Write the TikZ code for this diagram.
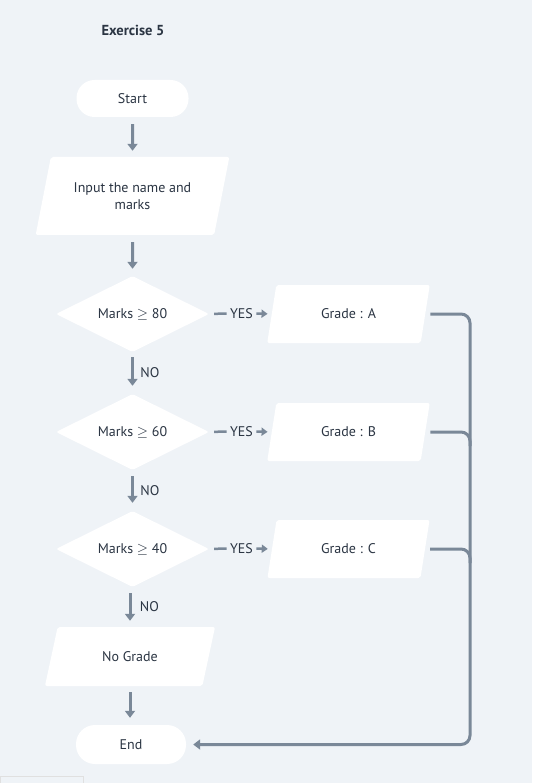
\documentclass[tikz,border=0pt]{standalone}
\usepackage{fontspec}
\setmainfont{PT Sans}
\usetikzlibrary{shapes,backgrounds}
\usetikzlibrary{arrows.meta}
\definecolor{bg}{HTML}{EFF3F7}
\definecolor{ink}{HTML}{2B3543}
\definecolor{wire}{HTML}{7A8898}

\begin{document}
\begin{tikzpicture}[x=1pt,y=-1pt,
  every node/.style={text=ink,font=\fontsize{14}{17}\selectfont},
  term/.style={fill=white,rounded corners=18pt,minimum width=112pt,minimum height=37pt},
  io/.style={trapezium,fill=white,trapezium stretches=true,rounded corners=2pt,align=center},
  test/.style={diamond,fill=white,aspect=2,inner sep=1pt,minimum width=153pt,minimum height=76pt,rounded corners=2pt},
  wireline/.style={draw=wire,line width=3pt},
  flow/.style={wireline,-{Triangle[width=10pt,length=7pt]}},
  yesflow/.style={wireline,line width=2.5pt,-{Triangle[width=8pt,length=6pt]}}]
\useasboundingbox[fill=bg] (0,0) rectangle (532,783);
\draw[black!12] (0,776) rectangle (83,790);

\node[font=\fontsize{14.5}{17}\bfseries] (title) at (133,30) {Exercise 5};
\node[term] (start) at (132.5,98.5) {Start};
\node[io,trapezium left angle=71,trapezium right angle=109,minimum width=194pt,minimum height=78pt] (input) at (132.5,196) {Input the name and\\marks};

\node[test] (d80) at (132.5,314) {Marks $\geq$ 80};
\node[test] (d60) at (132.5,432) {Marks $\geq$ 60};
\node[test] (d40) at (132.5,549) {Marks $\geq$ 40};

\node[io,trapezium left angle=77,trapezium right angle=103,minimum width=163pt,minimum height=58pt] (gA) at (348.5,314) {Grade : A};
\node[io,trapezium left angle=77,trapezium right angle=103,minimum width=163pt,minimum height=58pt] (gB) at (348.5,432) {Grade : B};
\node[io,trapezium left angle=77,trapezium right angle=103,minimum width=163pt,minimum height=58pt] (gC) at (348.5,549) {Grade : C};

\node[io,trapezium left angle=72,trapezium right angle=108,minimum width=171pt,minimum height=59pt] (noG) at (130,656.5) {No Grade};
\node[term,minimum width=110pt,minimum height=39pt,rounded corners=19pt] (end) at (131,744.5) {End};

% main column
\draw[flow,shorten <=7pt,shorten >=6pt] (start.south) -- (input.north);
\draw[flow,shorten <=7pt,shorten >=7pt] (input.south) -- (d80.north);
\draw[flow,shorten <=5pt,shorten >=8pt] (d80.south) -- node[right,xshift=3pt]{NO} (d60.north);
\draw[flow,shorten <=6pt,shorten >=8pt] (d60.south) -- node[right,xshift=3pt]{NO} (d40.north);
\draw[flow,shorten <=6pt,shorten >=6pt] (d40.south -| noG.north) -- node[right,xshift=5pt]{NO} (noG.north);
\draw[flow,shorten <=6pt,shorten >=7pt] (noG.south) -- (noG.south |- end.north);

% yes branches
\node (yA) at (241.5,313.5) {YES};
\node (yB) at (241.5,431.5) {YES};
\node (yC) at (241.5,548.5) {YES};
\draw[wireline,line width=2.5pt,shorten <=5pt] (d80.east) -- (yA.west);
\draw[wireline,line width=2.5pt,shorten <=5pt] (d60.east) -- (yB.west);
\draw[wireline,line width=2.5pt,shorten <=5pt] (d40.east) -- (yC.west);
\draw[yesflow,shorten >=4pt] (yA.east) -- (gA.west);
\draw[yesflow,shorten >=4pt] (yB.east) -- (gB.west);
\draw[yesflow,shorten >=4pt] (yC.east) -- (gC.west);

% return line to End
\coordinate (bus) at (470,744.5);
\draw[flow,rounded corners=9pt,shorten <=5pt,shorten >=7pt] (gA.east) -- (gA.east -| bus) -- (bus) -- (end.east);
\draw[wireline,rounded corners=9pt,shorten <=5pt] (gB.east) -- (gB.east -| bus) -- ([yshift=-14pt]gB.east -| bus);
\draw[wireline,rounded corners=9pt,shorten <=5pt] (gC.east) -- (gC.east -| bus) -- ([yshift=-14pt]gC.east -| bus);
\end{tikzpicture}
\end{document}
